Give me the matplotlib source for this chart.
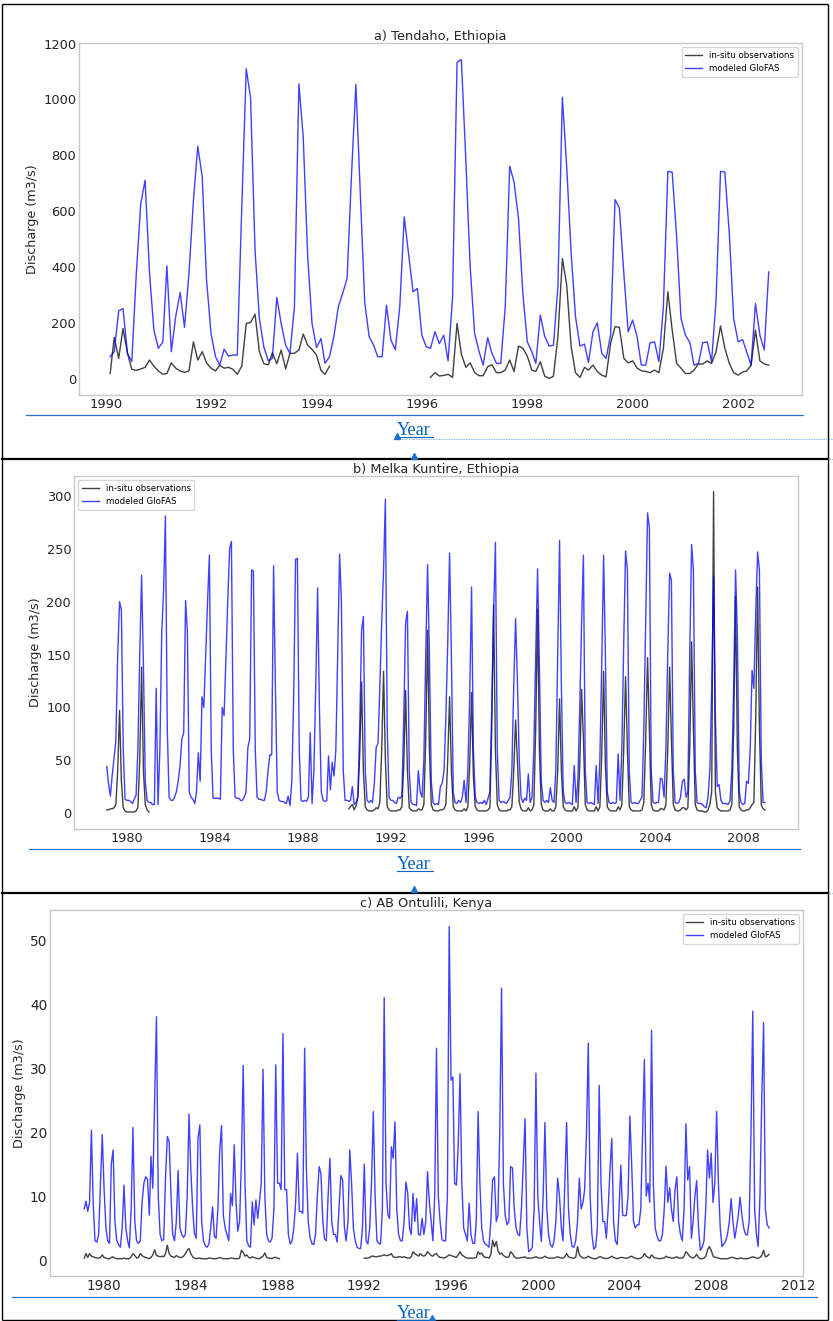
import numpy as np
import pandas as pd
import matplotlib
matplotlib.use("Agg")
import matplotlib.pyplot as plt
import matplotlib.dates as mdates

nan = np.nan

# a) Tendaho, Ethiopia -- monthly means from Jan 1990
tendaho_start = "1990-01"
tendaho_glofas = [
    80, 98, 244, 252, 92, 62, 377, 627, 711, 377, 175, 110,       # 1990
    133, 405, 98, 223, 310, 185, 377, 639, 833, 723, 354, 163,    # 1991
    80, 50, 107, 82, 86, 86, 615, 1110, 1006, 461, 217, 115,      # 1992
    65, 74, 292, 199, 121, 92, 258, 1056, 865, 437, 199, 113,     # 1993
    145, 56, 80, 151, 258, 306, 360, 735, 1054, 660, 276, 151,    # 1994
    121, 80, 80, 264, 139, 105, 258, 580, 449, 312, 324, 157,     # 1995
    115, 110, 169, 127, 157, 65, 294, 1133, 1143, 782, 401, 163,  # 1996
    98, 50, 148, 92, 56, 56, 258, 761, 705, 574, 306, 133,        # 1997
    98, 56, 229, 154, 118, 121, 330, 1008, 758, 449, 223, 118,    # 1998
    125, 59, 169, 201, 92, 74, 157, 642, 612, 377, 169, 211,      # 1999
    151, 50, 50, 130, 133, 62, 258, 743, 740, 508, 217, 157,      # 2000
    130, 50, 56, 130, 133, 62, 282, 743, 740, 520, 217, 133,      # 2001
    141, 98, 50, 270, 157, 104, 383,                              # 2002
]
tendaho_obs = [
    20, 149, 74, 181, 92, 35, 31, 36, 42, 68, 46, 29,
    17, 20, 58, 39, 29, 24, 29, 133, 68, 98, 58, 39,
    29, 49, 39, 42, 35, 17, 46, 199, 202, 232, 98, 55,
    51, 94, 55, 104, 36, 92, 92, 104, 161, 121, 106, 86,
    31, 17, 46, nan, nan, nan, nan, nan, nan, nan, nan, nan,
    nan, nan, nan, nan, nan, nan, nan, nan, nan, nan, nan, nan,
    nan, 6, 23, 11, 13, 17, 6, 199, 89, 42, 58, 23,
    12, 12, 44, 51, 23, 23, 32, 68, 27, 118, 110, 82,
    32, 27, 62, 11, 2, 10, 151, 431, 336, 115, 23, 6,
    42, 32, 50, 27, 14, 8, 127, 187, 185, 74, 58, 65,
    39, 30, 27, 23, 32, 23, 110, 312, 175, 56, 39, 20,
    20, 32, 54, 54, 65, 56, 98, 190, 110, 56, 23, 14,
    25, 29, 50, 175, 65, 54, 50,
]

# b) Melka Kuntire, Ethiopia -- monthly means from Jan 1979
melka_start = "1979-01"
melka_glofas = [
    44, 28, 16, 35, 52, 68, 150, 200, 192, 60, 13, 12,
    12, 11, 9, 13, 17, 60, 150, 225, 140, 30, 12, 10,
    10, 8, 8, 118, 8, 60, 170, 210, 281, 80, 15, 12,
    12, 15, 20, 30, 45, 70, 76, 201, 172, 20, 15, 13,
    9, 20, 57, 30, 110, 100, 150, 200, 244, 60, 14, 14,
    14, 14, 13, 100, 92, 145, 200, 250, 257, 60, 15, 14,
    14, 12, 12, 15, 20, 62, 70, 230, 229, 60, 15, 13,
    13, 12, 12, 20, 40, 55, 55, 234, 120, 20, 12, 11,
    11, 10, 9, 16, 7, 30, 110, 240, 241, 60, 12, 11,
    12, 11, 15, 76, 9, 40, 120, 213, 100, 20, 12, 11,
    12, 54, 22, 48, 35, 60, 150, 245, 200, 40, 12, 12,
    11, 12, 25, 8, 10, 15, 80, 173, 186, 40, 12, 10,
    12, 10, 28, 62, 66, 120, 180, 230, 297, 80, 15, 12,
    12, 10, 9, 15, 14, 16, 90, 180, 191, 40, 10, 8,
    8, 7, 40, 20, 15, 50, 150, 235, 150, 30, 10, 8,
    9, 8, 25, 28, 40, 90, 160, 246, 150, 20, 10, 9,
    12, 10, 15, 31, 10, 40, 110, 214, 60, 15, 10, 9,
    10, 9, 12, 8, 14, 20, 100, 190, 256, 60, 12, 10,
    11, 10, 9, 12, 15, 40, 120, 184, 126, 50, 15, 10,
    14, 12, 37, 10, 15, 60, 150, 231, 140, 30, 12, 10,
    12, 10, 24, 12, 10, 40, 150, 258, 120, 20, 10, 9,
    10, 9, 8, 45, 10, 30, 100, 180, 244, 40, 10, 9,
    10, 9, 8, 45, 9, 50, 140, 244, 150, 20, 10, 9,
    10, 9, 10, 56, 12, 60, 160, 248, 230, 40, 10, 9,
    10, 9, 9, 12, 15, 80, 180, 284, 270, 40, 10, 9,
    10, 10, 33, 32, 15, 60, 150, 227, 220, 40, 10, 9,
    10, 15, 30, 32, 15, 20, 150, 254, 230, 40, 10, 9,
    9, 8, 6, 5, 15, 40, 120, 224, 90, 25, 27, 12,
    9, 9, 9, 8, 12, 40, 120, 230, 170, 20, 10, 8,
    9, 30, 28, 60, 135, 118, 190, 247, 230, 50, 10, 10,
]
melka_obs = (
    [3, 3, 4, 4, 5, 8, 40, 97, 30, 5, 2, 1,
     1, 1, 1, 1, 2, 5, 50, 138, 40, 8, 3, 1]
    + [nan] * 108
    + [4, 6, 8, 3, 7, 15, 55, 124, 40, 6, 3, 2,
       2, 2, 3, 5, 4, 10, 60, 134, 50, 6, 3, 2,
       2, 2, 2, 3, 3, 6, 45, 116, 40, 5, 3, 2,
       2, 2, 4, 3, 3, 8, 70, 173, 60, 8, 3, 2,
       2, 2, 3, 3, 4, 8, 50, 110, 40, 6, 3, 2,
       2, 2, 2, 4, 2, 6, 45, 114, 35, 6, 3, 2,
       2, 2, 2, 2, 3, 5, 80, 197, 60, 8, 3, 2,
       2, 2, 2, 3, 3, 6, 40, 88, 50, 10, 4, 2,
       2, 2, 5, 2, 3, 8, 80, 193, 60, 8, 3, 2,
       2, 2, 4, 2, 2, 6, 40, 108, 40, 6, 3, 2,
       2, 2, 2, 6, 2, 5, 45, 117, 70, 8, 3, 2,
       2, 2, 2, 6, 2, 6, 55, 134, 45, 6, 3, 2,
       2, 2, 2, 6, 3, 8, 60, 129, 60, 6, 3, 2,
       2, 2, 2, 2, 3, 10, 70, 147, 80, 8, 3, 2,
       2, 2, 4, 4, 3, 8, 60, 138, 70, 8, 3, 2,
       2, 3, 5, 5, 3, 5, 60, 162, 80, 8, 3, 2,
       2, 2, 1, 1, 3, 8, 20, 304, 20, 5, 3, 2,
       2, 2, 2, 2, 3, 8, 80, 205, 60, 6, 3, 2,
       2, 3, 3, 5, 8, 10, 90, 214, 80, 8, 4, 3]
)

# c) AB Ontulili, Kenya -- monthly means from Jan 1979
ontulili_start = "1979-01"
ontulili_glofas = [
    8.0, 9.2, 7.6, 9.0, 20.3, 9.0, 3.0, 2.8, 4.0, 12.0, 19.6, 11.0,
    5.0, 3.0, 2.6, 15.0, 17.2, 6.0, 3.0, 2.4, 2.0, 5.0, 11.7, 5.0,
    3.0, 1.9, 8.0, 20.7, 6.0, 3.0, 2.6, 3.0, 9.0, 12.0, 13.0, 12.6,
    7.0, 16.2, 11.2, 25.0, 38.0, 10.0, 4.0, 3.0, 3.2, 13.0, 19.3, 18.5,
    10.0, 4.0, 3.0, 6.0, 14.0, 5.0, 4.0, 3.5, 4.0, 10.0, 22.8, 14.0,
    8.0, 4.2, 3.4, 19.0, 21.1, 6.0, 3.0, 2.2, 2.0, 2.5, 5.0, 8.3,
    3.7, 3.4, 8.0, 17.0, 21.0, 7.0, 5.0, 4.0, 3.0, 10.4, 8.5, 18.0,
    9.0, 4.5, 6.0, 15.0, 30.4, 12.0, 3.0, 2.2, 2.0, 9.1, 5.5, 9.4,
    6.5, 9.0, 12.0, 29.8, 10.0, 4.0, 3.0, 2.8, 3.5, 8.0, 30.5, 12.0,
    12.0, 11.0, 35.4, 11.0, 11.0, 4.0, 2.5, 3.0, 5.0, 9.0, 16.7, 7.6,
    7.6, 7.3, 33.1, 14.0, 6.0, 3.5, 2.6, 2.4, 4.0, 10.0, 14.6, 13.5,
    6.0, 3.3, 3.0, 10.0, 15.9, 6.0, 4.0, 4.0, 2.8, 8.0, 13.2, 12.5,
    5.0, 3.0, 6.0, 17.2, 12.0, 5.0, 3.0, 2.0, 1.8, 1.8, 5.0, 15.0,
    3.0, 2.5, 5.0, 12.0, 23.2, 10.0, 3.0, 2.6, 2.5, 8.0, 41.0, 12.0,
    7.0, 6.5, 17.7, 15.9, 21.6, 8.0, 4.0, 3.0, 3.0, 6.0, 12.2, 10.5,
    5.0, 4.0, 10.4, 6.0, 9.6, 4.0, 3.9, 6.5, 4.0, 6.0, 13.8, 9.0,
    6.0, 3.0, 10.0, 33.1, 10.0, 6.0, 3.2, 3.0, 3.0, 10.0, 52.1, 28.1,
    28.6, 12.0, 11.7, 18.0, 29.1, 12.0, 5.0, 4.0, 3.0, 8.9, 4.0, 2.6,
    2.6, 6.0, 23.2, 12.0, 5.0, 3.0, 2.5, 2.3, 2.0, 6.0, 12.5, 13.0,
    6.0, 7.0, 20.0, 42.5, 12.0, 7.0, 5.5, 6.0, 14.6, 14.4, 8.0, 5.0,
    4.0, 3.8, 8.0, 15.0, 22.1, 5.0, 1.3, 1.5, 2.0, 8.0, 29.2, 10.0,
    6.0, 2.9, 10.0, 21.5, 8.0, 4.0, 2.4, 2.0, 3.0, 6.0, 12.8, 10.0,
    5.0, 3.0, 12.0, 21.5, 8.0, 4.0, 2.1, 2.0, 3.0, 6.0, 12.8, 8.0,
    9.0, 11.0, 20.0, 33.9, 10.0, 4.0, 1.7, 2.0, 5.0, 27.3, 12.0, 6.0,
    6.0, 3.4, 8.0, 14.0, 19.0, 6.0, 3.0, 2.4, 8.0, 14.8, 7.0, 6.9,
    7.0, 10.0, 22.5, 15.0, 6.0, 5.0, 5.5, 5.5, 8.0, 20.0, 31.3, 10.0,
    12.0, 9.0, 35.9, 12.0, 5.0, 3.8, 3.0, 3.0, 4.0, 8.0, 14.7, 9.0,
    11.3, 8.0, 6.0, 11.0, 13.0, 6.0, 4.0, 3.0, 8.0, 21.3, 12.5, 14.6,
    3.4, 6.0, 10.0, 12.4, 5.0, 1.5, 2.0, 3.0, 8.0, 17.2, 12.8, 16.7,
    9.0, 12.0, 23.2, 12.0, 5.0, 2.1, 2.5, 3.0, 4.0, 6.0, 9.6, 6.0,
    3.4, 5.0, 7.0, 9.8, 7.0, 5.0, 4.0, 3.9, 6.0, 20.0, 38.9, 8.0,
    4.0, 2.1, 10.0, 25.0, 37.1, 8.0, 5.5, 5.0,
]
ontulili_obs = (
    [0.3, 1.0, 0.4, 1.0, 0.6, 0.5, 0.4, 0.3, 0.3, 0.4, 0.8, 0.4,
     0.3, 0.2, 0.2, 0.4, 0.5, 0.3, 0.2, 0.2, 0.2, 0.2, 0.3, 0.2,
     0.2, 0.2, 0.5, 1.0, 0.7, 0.3, 0.4, 1.0, 0.7, 0.5, 0.4, 0.3,
     0.2, 0.4, 0.8, 1.6, 0.7, 0.6, 0.5, 0.6, 0.5, 1.0, 2.3, 1.0,
     0.6, 0.5, 0.4, 0.7, 0.5, 0.4, 0.4, 0.6, 1.0, 1.5, 1.8, 1.0,
     0.5, 0.3, 0.2, 0.3, 0.3, 0.2, 0.2, 0.2, 0.2, 0.3, 0.3, 0.2,
     0.2, 0.2, 0.3, 0.4, 0.3, 0.2, 0.2, 0.2, 0.2, 0.3, 0.3, 0.2,
     0.2, 0.2, 0.3, 1.5, 1.2, 0.6, 0.8, 0.4, 0.3, 0.5, 0.4, 0.3,
     0.2, 0.2, 0.4, 0.6, 1.1, 0.4, 0.3, 0.3, 0.2, 0.4, 0.4, 0.3,
     0.2]
    + [nan] * 46
    + [0.3,
       0.3, 0.3, 0.4, 0.6, 0.6, 0.5, 0.5, 0.6, 0.6, 0.7, 0.8, 0.7,
       0.7, 0.8, 1.0, 0.5, 0.4, 0.4, 0.5, 0.5, 0.4, 0.5, 0.4, 0.3,
       0.3, 0.5, 1.3, 1.0, 0.8, 0.6, 1.0, 0.7, 0.6, 0.8, 1.3, 1.0,
       0.7, 0.6, 0.9, 1.0, 0.6, 0.4, 0.4, 0.3, 0.4, 0.6, 0.8, 0.7,
       0.6, 0.5, 0.4, 0.8, 1.3, 0.8, 0.6, 0.4, 0.3, 0.3, 0.3, 0.3,
       0.3, 0.4, 1.3, 0.9, 1.1, 0.6, 0.4, 0.4, 0.3, 0.8, 3.1, 2.1,
       2.9, 1.5, 0.9, 1.1, 0.7, 0.5, 0.4, 0.5, 1.3, 1.0, 0.5, 0.3,
       0.3, 0.3, 0.4, 0.4, 0.5, 0.3, 0.3, 0.3, 0.3, 0.4, 0.5, 0.4,
       0.3, 0.3, 0.4, 0.6, 0.4, 0.3, 0.3, 0.3, 0.3, 0.4, 0.5, 0.4,
       0.3, 0.3, 0.5, 1.0, 0.5, 0.4, 0.3, 0.3, 0.4, 2.1, 0.8, 0.5,
       0.3, 0.3, 0.4, 0.6, 0.4, 0.3, 0.2, 0.2, 0.3, 0.5, 0.5, 0.3,
       0.3, 0.2, 0.3, 0.4, 0.6, 0.4, 0.3, 0.2, 0.3, 0.4, 0.4, 0.3,
       0.3, 0.3, 0.5, 0.6, 0.4, 0.3, 0.2, 0.2, 0.3, 0.5, 1.0, 0.6,
       0.4, 0.3, 0.8, 0.5, 0.3, 0.3, 0.2, 0.2, 0.3, 0.3, 0.6, 0.4,
       0.4, 0.3, 0.3, 0.4, 0.5, 0.3, 0.3, 0.3, 0.6, 1.3, 1.0, 0.6,
       0.4, 0.3, 0.5, 0.9, 0.4, 0.2, 0.2, 0.3, 0.6, 1.6, 2.1, 1.5,
       0.6, 0.4, 0.4, 0.3, 0.2, 0.2, 0.2, 0.2, 0.2, 0.3, 0.4, 0.4,
       0.3, 0.2, 0.2, 0.3, 0.3, 0.2, 0.2, 0.2, 0.3, 0.4, 0.5, 0.4,
       0.3, 0.3, 0.4, 0.7, 1.5, 0.5, 0.6, 0.9]
)


def month_ends(start, n):
    # monthly means are stamped at the end of each month
    return pd.date_range(start + "-01", periods=n + 1, freq="MS")[1:] - pd.Timedelta(days=1)


def yr(v):
    y = int(v)
    return pd.Timestamp(y, 1, 1) + pd.Timedelta(days=(v - y) * 365.25)


W, H = 833, 1321
fig = plt.figure(figsize=(W / 100, H / 100), dpi=100)

panels = [
    dict(rect=[79, 43, 802, 395], title="a) Tendaho, Ethiopia", start=tendaho_start,
         obs=tendaho_obs, mod=tendaho_glofas, xlim=(1989.49, 2003.21), ylim=(-57, 1202),
         step=2, loc="upper right", fs=9.4),
    dict(rect=[74, 476, 798, 829], title="b) Melka Kuntire, Ethiopia", start=melka_start,
         obs=melka_obs, mod=melka_glofas, xlim=(1977.59, 2010.5), ylim=(-15.1, 318.9),
         step=4, loc="upper left", fs=9.3),
    dict(rect=[50, 910, 803, 1276], title="c) AB Ontulili, Kenya", start=ontulili_start,
         obs=ontulili_obs, mod=ontulili_glofas, xlim=(1977.5, 2012.23), ylim=(-2.5, 54.7),
         step=4, loc="upper right", fs=9.8),
]

for p in panels:
    l, t, r, b = p["rect"]
    ax = fig.add_axes([l / W, 1 - b / H, (r - l) / W, (b - t) / H])
    dates = month_ends(p["start"], len(p["mod"]))
    ax.plot(dates, p["obs"], color="black", alpha=0.75, lw=1.0, label="in-situ observations")
    ax.plot(dates, p["mod"], color="blue", alpha=0.75, lw=1.0, label="modeled GloFAS")
    ax.set_xlim(yr(p["xlim"][0]), yr(p["xlim"][1]))
    ax.set_ylim(*p["ylim"])
    ax.xaxis.set_major_locator(mdates.YearLocator(p["step"]))
    ax.xaxis.set_major_formatter(mdates.DateFormatter("%Y"))
    ax.tick_params(length=0, pad=2, labelsize=p["fs"], colors="#262626")
    for s in ax.spines.values():
        s.set_color("#c8c8c8")
        s.set_linewidth(1.0)
    ax.set_title(p["title"], fontsize=9.3, pad=2, color="#262626")
    ax.set_ylabel("Discharge (m3/s)", fontsize=9.2, color="#262626", labelpad=3)
    ax.legend(loc=p["loc"], fontsize=6.2, frameon=True)

# page decorations from the document the figure sits in
ov = fig.add_axes([0, 0, 1, 1], zorder=5)
ov.set_xlim(0, W)
ov.set_ylim(H, 0)
ov.set_axis_off()

box = dict(color="black", lw=1.0, solid_capstyle="butt")
ov.plot([2, 828], [4, 4], **box)
ov.plot([2, 2], [4, 1320], **box)
ov.plot([828, 828], [4, 1320], **box)
ov.plot([2, 828], [1320, 1320], **box)
ov.plot([2, 828], [459, 459], color="black", lw=1.6)
ov.plot([2, 828], [893, 893], color="black", lw=1.6)

cap_blue = "#2a72c4"
link_blue = "#0563c1"
for x0, x1, y in [(26, 803, 415), (29, 800, 849), (12, 817, 1297)]:
    ov.plot([x0, x1], [y, y], color=cap_blue, lw=0.9)

for base in [435, 869, 1318]:
    ov.text(397, base, "Year", color=link_blue, fontsize=13.2, family="Liberation Serif",
            ha="left", va="baseline")
    ov.plot([397, 433], [base + 2, base + 2], color=link_blue, lw=0.8)

dot = dict(color="#5b9bd5", lw=0.6, ls=(0, (1, 1)))
ov.plot([397, 833], [439, 439], **dot)
ov.plot([828, 833], [459, 459], **dot)
ov.plot([828, 833], [893, 893], **dot)

ov.plot([397, 414, 414, 432], [436, 456, 889, 1318], ls="none", marker="^",
        ms=4.5, color="#1a73d0")

fig.savefig("out.png", dpi=100)
